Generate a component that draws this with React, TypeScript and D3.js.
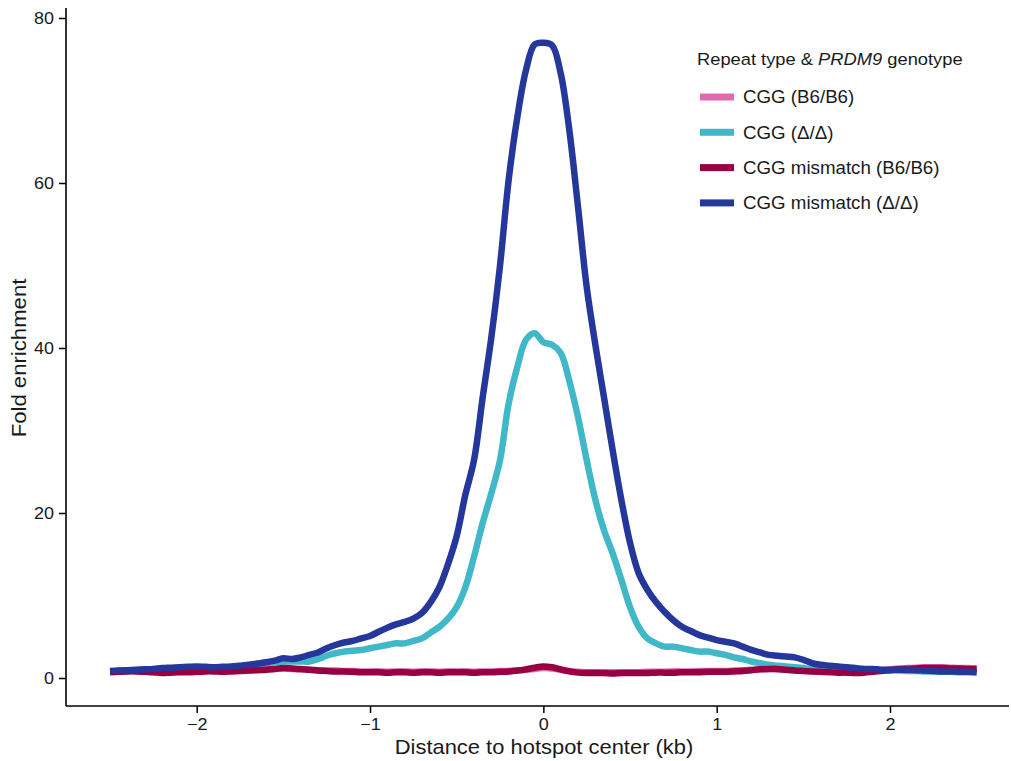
import React, { useEffect, useRef } from "react";
import * as d3 from "d3";

const W = 1011;
const H = 761;

// x positions (kb), sampled every 0.05 kb from -2.5 to 2.5
const positions: number[] = d3.range(-50, 51).map((i) => i / 20);

const cggMismatchDelta: number[] = [
  0.85, 0.9, 0.95, 1.0, 1.05, 1.1, 1.2, 1.25, 1.3, 1.35,
  1.4, 1.35, 1.3, 1.35, 1.4, 1.5, 1.6, 1.75, 1.9, 2.1,
  2.4, 2.3, 2.5, 2.8, 3.1, 3.6, 4.0, 4.3, 4.5, 4.8,
  5.1, 5.6, 6.1, 6.5, 6.8, 7.2, 7.9, 9.2, 11.0, 13.8,
  17.2, 22.2, 26.4, 34.0, 41.3, 50.0, 60.4, 68.0, 73.7, 76.8,
  77.0, 76.7, 73.3, 66.4, 57.1, 47.4, 40.4, 34.0, 27.6, 21.6,
  16.4, 12.7, 10.7, 9.2, 8.0, 7.0, 6.2, 5.7, 5.2, 4.9,
  4.6, 4.4, 4.2, 3.8, 3.4, 3.1, 2.8, 2.7, 2.6, 2.5,
  2.2, 1.8, 1.6, 1.5, 1.4, 1.3, 1.2, 1.1, 1.1, 1.0,
  1.0, 1.0, 1.0, 0.95, 0.9, 0.85, 0.8, 0.8, 0.75, 0.75,
  0.7,
];

const cggDelta: number[] = [
  0.8, 0.85, 0.9, 0.95, 1.0, 1.05, 1.1, 1.15, 1.2, 1.25,
  1.3, 1.3, 1.25, 1.3, 1.35, 1.45, 1.55, 1.7, 1.8, 1.9,
  2.0, 2.0, 2.0, 2.0, 2.3, 2.7, 3.0, 3.2, 3.3, 3.4,
  3.6, 3.8, 4.0, 4.2, 4.2, 4.5, 4.8, 5.5, 6.2, 7.2,
  8.6, 11.0, 14.7, 18.8, 22.4, 26.4, 33.3, 37.7, 41.0, 41.8,
  40.7, 40.4, 39.4, 36.0, 31.6, 26.4, 21.6, 17.9, 15.1, 11.9,
  8.6, 6.2, 4.8, 4.2, 3.8, 3.8, 3.6, 3.4, 3.2, 3.2,
  3.0, 2.8, 2.5, 2.3, 2.0, 1.8, 1.6, 1.5, 1.4, 1.3,
  1.2, 1.1, 1.05, 1.0, 1.0, 0.95, 0.9, 0.9, 0.9, 0.9,
  0.9, 0.9, 0.85, 0.85, 0.8, 0.8, 0.75, 0.75, 0.7, 0.7,
  0.7,
];

const cggMismatchB6: number[] = [
  0.7, 0.75, 0.8, 0.8, 0.75, 0.7, 0.6, 0.65, 0.7, 0.7,
  0.75, 0.8, 0.8, 0.75, 0.8, 0.85, 0.9, 0.95, 1.0, 1.1,
  1.2, 1.15, 1.1, 1.0, 0.9, 0.85, 0.8, 0.8, 0.75, 0.7,
  0.7, 0.7, 0.65, 0.7, 0.7, 0.65, 0.7, 0.7, 0.65, 0.7,
  0.7, 0.7, 0.65, 0.7, 0.7, 0.75, 0.8, 0.9, 1.05, 1.25,
  1.4, 1.3, 1.05, 0.8, 0.65, 0.6, 0.6, 0.6, 0.55, 0.6,
  0.6, 0.6, 0.6, 0.65, 0.65, 0.65, 0.7, 0.7, 0.7, 0.75,
  0.75, 0.75, 0.8, 0.85, 0.95, 1.05, 1.1, 1.1, 1.0, 0.9,
  0.85, 0.8, 0.75, 0.7, 0.65, 0.65, 0.6, 0.65, 0.75, 0.85,
  0.95, 1.05, 1.1, 1.15, 1.2, 1.2, 1.2, 1.15, 1.15, 1.1,
  1.1,
];

const cggB6: number[] = [
  0.8, 0.85, 0.85, 0.9, 0.85, 0.8, 0.75, 0.8, 0.8, 0.85,
  0.85, 0.9, 0.9, 0.85, 0.9, 0.9, 0.95, 1.0, 1.05, 1.1,
  1.15, 1.1, 1.05, 1.0, 0.95, 0.9, 0.9, 0.85, 0.85, 0.8,
  0.8, 0.8, 0.75, 0.8, 0.8, 0.75, 0.8, 0.8, 0.75, 0.8,
  0.8, 0.8, 0.75, 0.8, 0.8, 0.85, 0.85, 0.9, 1.0, 1.1,
  1.2, 1.15, 1.0, 0.85, 0.75, 0.7, 0.7, 0.7, 0.7, 0.7,
  0.7, 0.7, 0.75, 0.75, 0.75, 0.8, 0.8, 0.8, 0.85, 0.85,
  0.85, 0.85, 0.9, 0.95, 1.0, 1.05, 1.1, 1.05, 1.0, 0.95,
  0.9, 0.85, 0.85, 0.8, 0.8, 0.75, 0.75, 0.8, 0.85, 0.95,
  1.05, 1.15, 1.2, 1.25, 1.3, 1.3, 1.3, 1.25, 1.2, 1.2,
  1.15,
];

const seriesNames: string[] = [
  "CGG (B6/B6)",
  "CGG (\u0394/\u0394)",
  "CGG mismatch (B6/B6)",
  "CGG mismatch (\u0394/\u0394)",
];
const seriesValues: number[][] = [cggB6, cggDelta, cggMismatchB6, cggMismatchDelta];
const seriesColors: string[] = ["#e06ab2", "#41b8c8", "#990042", "#25379a"];

const xTicks: number[] = [-2, -1, 0, 1, 2];
const yTicks: number[] = [0, 20, 40, 60, 80];

const FONT = "'Liberation Sans', Arial, sans-serif";
const TEXT = "#1a1a1a";

function SText(props: {
  x: number;
  y: number;
  size: number;
  sx: number;
  anchor?: string;
  rotate?: number;
  children: React.ReactNode;
}) {
  const { x, y, size, sx, anchor, rotate, children } = props;
  return (
    <text
      transform={`translate(${x},${y}) rotate(${rotate || 0}) scale(${sx},1)`}
      textAnchor={anchor || "start"}
      fontSize={size}
      fill={TEXT}
    >
      {children}
    </text>
  );
}

export default function App() {
  const xAxisRef = useRef<SVGGElement>(null);
  const yAxisRef = useRef<SVGGElement>(null);

  const x = d3.scaleLinear().domain([-2, 2]).range([196.7, 890]);
  const y = d3.scaleLinear().domain([0, 80]).range([678, 18]);

  const plotLeft = 66;
  const plotRight = 1009;
  const plotTop = 8;
  const plotBottom = 706;

  useEffect(() => {
    const fmt = d3.format("d");
    if (xAxisRef.current) {
      const g = d3.select(xAxisRef.current);
      g.selectAll("*").remove();
      g.call(
        d3.axisBottom(x).tickValues(xTicks).tickFormat((d) => fmt(d as number)).tickSize(7).tickPadding(5)
      );
      g.select(".domain").remove();
      g.selectAll(".tick line").attr("stroke", "#000").attr("stroke-width", 1.5);
      g.selectAll(".tick text")
        .attr("fill", TEXT)
        .attr("font-size", 16.5)
        .attr("font-family", FONT)
        .attr("transform", "scale(1.09,1)");
    }
    if (yAxisRef.current) {
      const g = d3.select(yAxisRef.current);
      g.selectAll("*").remove();
      g.call(
        d3.axisLeft(y).tickValues(yTicks).tickFormat((d) => fmt(d as number)).tickSize(7).tickPadding(5)
      );
      g.select(".domain").remove();
      g.selectAll(".tick line").attr("stroke", "#000").attr("stroke-width", 1.5);
      g.selectAll(".tick text")
        .attr("fill", TEXT)
        .attr("font-size", 16.5)
        .attr("font-family", FONT)
        .attr("x", -12 / 1.09)
        .attr("transform", "scale(1.09,1)");
    }
  });

  const line = d3
    .line<number>()
    .x((_, i) => x(positions[i]))
    .y((d) => y(d))
    .curve(d3.curveCatmullRom.alpha(0.5));

  const legendX = 700;
  const legendY0 = 97;
  const legendStep = 35.3;

  return (
    <svg
      width={W}
      height={H}
      style={{ position: "absolute", left: 0, top: 0, background: "#fff" }}
      fontFamily={FONT}
    >
      <rect x={0} y={0} width={W} height={H} fill="#fff" />
      {seriesValues.map((vals, k) => (
        <path
          key={k}
          d={line(vals) || ""}
          fill="none"
          stroke={seriesColors[k]}
          strokeWidth={6.5}
          strokeLinejoin="round"
          strokeLinecap="butt"
        />
      ))}
      <line x1={plotLeft} x2={plotLeft} y1={plotTop} y2={plotBottom} stroke="#000" strokeWidth={1.6} />
      <line x1={plotLeft} x2={plotRight} y1={plotBottom} y2={plotBottom} stroke="#000" strokeWidth={1.6} />
      <g ref={xAxisRef} transform={`translate(0,${plotBottom})`} />
      <g ref={yAxisRef} transform={`translate(${plotLeft},0)`} />
      <SText x={544} y={754} size={20.5} sx={1.07} anchor="middle">
        Distance to hotspot center (kb)
      </SText>
      <SText x={26} y={358} size={20.5} sx={1.08} anchor="middle" rotate={-90}>
        Fold enrichment
      </SText>
      <SText x={697} y={65} size={16.5} sx={1.11}>
        Repeat type &amp; <tspan fontStyle="italic">PRDM9</tspan> genotype
      </SText>
      {seriesNames.map((name, k) => (
        <g key={name} transform={`translate(${legendX},${legendY0 + k * legendStep})`}>
          <rect x={0} y={-3.5} width={34} height={7} fill={seriesColors[k]} />
          <SText x={43} y={6.3} size={17.5} sx={1.07}>
            {name}
          </SText>
        </g>
      ))}
    </svg>
  );
}
